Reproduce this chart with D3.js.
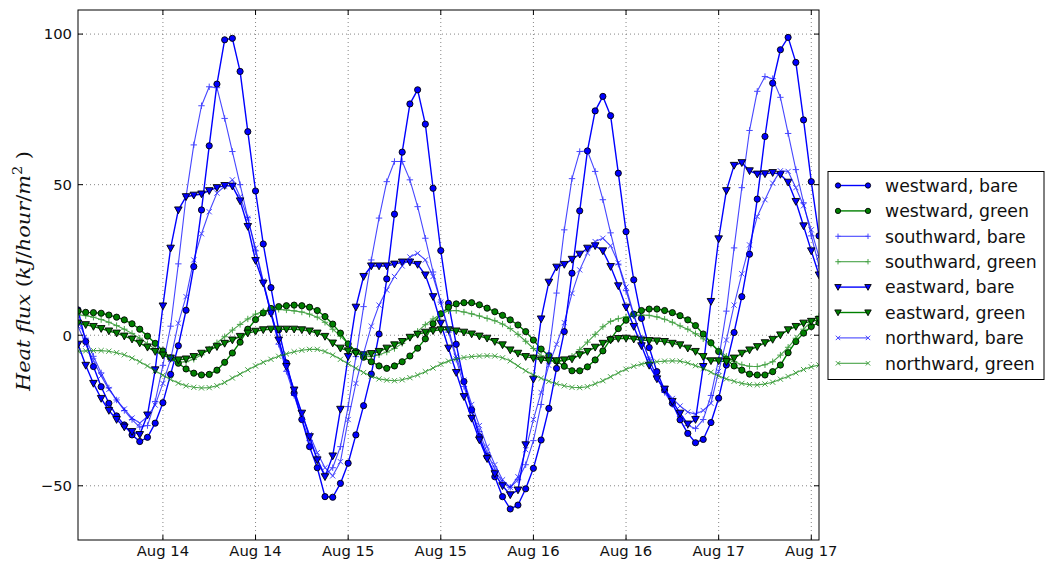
<!DOCTYPE html>
<html><head><meta charset="utf-8">
<script src="https://cdn.jsdelivr.net/npm/d3@7/dist/d3.min.js"></script>
<style>body{margin:0;background:#fff}svg{display:block}</style>
</head><body>
<svg id="chart" width="1045" height="561"></svg>
<script>
// ---- data (hourly samples starting Aug 13 13:00) ----
const startTime = "2014-08-13T13:00:00Z";
const seriesNames = ["westward, bare","westward, green","southward, bare","southward, green",
                     "eastward, bare","eastward, green","northward, bare","northward, green"];
const westwardBare = [8.4,-2.1,-10.4,-17.1,-22.6,-26.8,-29.8,-33.1,-35.3,-33.9,
 -29.2,-22.4,-13,-3.5,8.3,22.8,41.6,62.9,83.4,98.1,
 98.6,87.6,67.6,47.9,30.3,15.8,1.8,-9.2,-19.2,-28,
 -37,-44,-53.6,-53.8,-49.2,-42.5,-33.1,-23.4,-12.9,0.4,
 18.7,40.2,60.8,76.8,81.5,70.1,48.8,28.1,10.6,-3,
 -15.4,-24.8,-33.7,-40.3,-47,-53.6,-57.7,-56.4,-51,-44.2,
 -34.8,-24.3,-11,1.2,20.6,41.3,61.2,74.5,79.3,72.9,
 53.8,34.4,18.4,5.6,-4.1,-12.1,-18.2,-22.6,-28.1,-32.6,
 -35.7,-34.6,-29,-20.9,-9.9,0.9,12.8,26.9,45.2,66,
 83.7,94.8,98.9,90.6,71.5,51,33];
const westwardGreen = [8,7.6,7.5,7.3,6.7,6,5.1,3.8,2,-0.3,
 -2.7,-5.2,-7.5,-9.3,-11.2,-12.6,-13.2,-13,-11.6,-9,
 -5.9,-2.3,2,5.2,7.4,8.9,9.5,9.8,10,9.8,
 9.3,8.2,6.2,3.7,0.7,-2.9,-5.4,-7.3,-8.8,-10.2,
 -11,-10.2,-8.8,-6.9,-4.3,-1.2,3.8,7.1,9.3,10.4,
 10.8,10.8,10.1,9,7.8,6.6,5.1,3.4,1.2,-1.6,
 -4.6,-6.8,-8.6,-10.3,-11.8,-11.8,-10.5,-8.2,-5.2,-1.3,
 2.2,5,7,8.2,8.7,8.7,8.2,7.5,6.5,5.1,
 3.2,0.4,-2.5,-5.4,-8,-10.2,-11.6,-12.9,-13.2,-13.2,
 -12.1,-9.9,-5.8,-2.1,0.7,2.9,4.2];
const southwardBare = [5,-1,-7,-12.5,-17.5,-21.5,-25,-28,-30.5,-30,
 -22,-10,3,23.7,46,63.2,76.2,82.5,82.2,72,
 61,50,39,28,17.5,7,-3,-12,-20,-28,
 -35,-41,-46.5,-44,-37,-23.7,-7.1,9.5,25,38.9,
 51,57.7,57.7,51.6,42.7,32.2,21,11,1,-8,
 -17,-25,-32,-39,-44.5,-49,-50.5,-48,-43,-35,
 -23,-6,14,35,52,61,61.2,54.4,45,34,
 23.6,14.8,6.5,-1,-8,-14,-19,-23,-27,-30,
 -31,-28,-20,-8,8,29,49,68,81,85.9,
 85.2,79,67,55,44,33,23];
const southwardGreen = [6.8,6.5,6,5.2,4.3,3.2,2,0.6,-1,-2.8,
 -4.6,-6.4,-8,-9,-8.8,-8,-6.5,-4.6,-2.5,-0.5,
 1.7,3.6,5.4,7,8,8.5,8.6,8.4,8.1,7.7,
 7,6,4.3,2,-0.3,-2.8,-5.3,-6.7,-7.1,-6.5,
 -5.6,-4.4,-2.7,-0.7,1.3,3.5,5.4,7,8.1,8.2,
 7.7,7.1,6.4,5.6,4.8,3.7,2.2,0.3,-2,-4.4,
 -6.8,-8.3,-9,-8.4,-7,-4.8,-2.3,0.3,2.8,4.6,
 5.5,6.1,6.5,6.7,6.6,6.1,5.3,4.3,3.1,2,
 0.5,-1.2,-3,-5,-7,-8.7,-9.8,-10.3,-10.4,-9.8,
 -8.8,-6.6,-4,-1,2,4.6,6.4];
const eastwardBare = [-3,-10,-16,-21,-25,-28,-30.5,-32,-33,-26.5,
 -11.5,9.7,28.9,41.6,46,46.5,46.9,48,49,49.7,
 49.5,44.6,36.1,24.8,17.3,7.3,-1.6,-10.4,-18.2,-25.9,
 -33.7,-41.4,-47,-40.1,-24.6,-7.1,9.3,19.5,23,23,
 23,23.6,24.3,24.3,23.5,20,12.8,4,-4.3,-12.4,
 -20.4,-27.6,-34.8,-41,-46,-50,-53,-51.4,-36.4,-14.6,
 5.4,17.6,22.6,23.5,25.2,26.9,28.9,29.7,28,22.8,
 16.4,9.3,2.9,-3.5,-10,-14.5,-17.9,-22,-25.9,-29.5,
 -28,-10.4,11.2,32,48,56.4,57.3,54.6,53.5,53.6,
 54,53.4,50.8,44.4,36.3,28,20];
const eastwardGreen = [4,3.5,2.9,2.2,1.4,0.7,-0.3,-1.3,-2.6,-4,
 -5.4,-6.6,-7.6,-8.2,-7.9,-7.1,-6,-4.9,-3.8,-2.7,
 -1.6,-0.4,0.7,1.3,1.8,2,2,2,2,1.8,
 1.4,0.7,-0.4,-2.6,-4.3,-5.2,-6,-6.5,-6.1,-5.4,
 -4.3,-3.2,-2.1,-0.7,0.3,1,1.5,1.8,1.8,1.4,
 1,0.4,-0.3,-1,-2.1,-3.2,-4.9,-6,-7.1,-7.6,
 -8.2,-8.5,-8.5,-8.2,-7.9,-6.5,-5.4,-4,-2.7,-1.6,
 -1.1,-1,-1.3,-1.6,-1.8,-1.9,-2.1,-2.7,-3.2,-4.3,
 -5.4,-7.1,-8.5,-8.5,-8.8,-7.6,-6,-4.9,-3.8,-2.5,
 -1.4,0.1,1.8,2.9,4,4.6,5.2];
const northwardBare = [3,-3,-8.5,-13.5,-18,-21.5,-24.5,-27.5,-29.2,-27,
 -23.2,-16,-8,4,12.8,25,33.7,41,47.2,49.5,
 51.6,46,38.8,28.9,18,8,-2,-11,-19,-26,
 -33,-39,-44,-46.7,-42,-28,-16,-6,3,10,
 15,19.5,23,26,27.2,25,19.5,11,2,-7,
 -15,-23,-30,-37,-43,-48,-50.5,-47,-38,-28,
 -19,-10,-3,4.2,13.9,21.7,27.3,31.1,32.2,29.7,
 24,16,7,-1,-8,-14,-18,-21,-23.5,-25.5,
 -26.2,-25,-22.6,-12,-1.6,10,20.4,30,39.4,45,
 50.5,54.6,54.4,49,43,35,26];
const northwardGreen = [-5.3,-5.2,-5.1,-5.1,-5.3,-5.8,-6.5,-7.6,-8.8,-10.2,
 -11.8,-13.3,-14.7,-15.9,-16.8,-17.3,-17.5,-17.4,-16.8,-15.7,
 -14.2,-12.9,-11.5,-10.2,-9,-8,-7,-6.2,-5.5,-5,
 -4.7,-4.7,-5.4,-6.6,-8,-9.5,-11,-12.4,-13.6,-14.5,
 -14.9,-15.1,-14.8,-14.1,-13.2,-12.1,-10.9,-9.6,-8.6,-7.9,
 -7.4,-7.1,-6.9,-6.8,-6.9,-7.5,-8.5,-10.2,-11.8,-13.2,
 -14.3,-15.3,-16.1,-16.8,-17.3,-17.4,-17.1,-16.1,-15.1,-13.8,
 -12.5,-11.3,-10.3,-9.6,-9.1,-8.8,-8.6,-8.5,-8.6,-9.2,
 -10.1,-11,-12.3,-13.5,-14.5,-15.3,-16,-16.4,-16.5,-16.2,
 -15.6,-14.6,-13.7,-12.5,-11.4,-10.5,-9.9];
const xTickTimes = ["2014-08-14T00:00:00Z","2014-08-14T12:00:00Z","2014-08-15T00:00:00Z","2014-08-15T12:00:00Z",
                    "2014-08-16T00:00:00Z","2014-08-16T12:00:00Z","2014-08-17T00:00:00Z","2014-08-17T12:00:00Z"];
const xTickLabels = ["Aug 14","Aug 14","Aug 15","Aug 15","Aug 16","Aug 16","Aug 17","Aug 17"];
const yTickValues = [-50, 0, 50, 100];
const yTickLabels = ["\u221250", "0", "50", "100"];

// ---- styles per series ----
const allValues = [westwardBare, westwardGreen, southwardBare, southwardGreen,
                   eastwardBare, eastwardGreen, northwardBare, northwardGreen];
const styles = [
  {color:"#0000ff", marker:"o", width:1.4, opacity:1},
  {color:"#008000", marker:"o", width:1.4, opacity:1},
  {color:"#0000ff", marker:"+", width:1.1, opacity:0.72},
  {color:"#008000", marker:"+", width:1.1, opacity:0.72},
  {color:"#0000ff", marker:"v", width:1.4, opacity:1},
  {color:"#008000", marker:"v", width:1.4, opacity:1},
  {color:"#0000ff", marker:"x", width:1.1, opacity:0.72},
  {color:"#008000", marker:"x", width:1.1, opacity:0.72}
];

const svg = d3.select("#chart");
const L = 78, R = 819, T = 10, B = 540;
const t0 = new Date(startTime);
const timeAt = i => new Date(t0.getTime() + i * 3600e3);
const x = d3.scaleUtc().domain([t0, timeAt(96)]).range([L, R]);
const y = d3.scaleLinear().domain([-68, 108]).range([B, T]);

svg.append("defs").append("clipPath").attr("id","clip")
  .append("rect").attr("x",L).attr("y",T).attr("width",R-L).attr("height",B-T);

// grid
const g = svg.append("g");
const xTicks = xTickTimes.map(s => new Date(s));
g.selectAll(".gx").data(xTicks).enter().append("line")
  .attr("x1", d=>x(d)).attr("x2", d=>x(d)).attr("y1",T).attr("y2",B)
  .attr("stroke","#777").attr("stroke-width",0.9).attr("stroke-dasharray","1,3");
g.selectAll(".gy").data(yTickValues).enter().append("line")
  .attr("y1", d=>y(d)).attr("y2", d=>y(d)).attr("x1",L).attr("x2",R)
  .attr("stroke","#777").attr("stroke-width",0.9).attr("stroke-dasharray","1,3");

function drawMarker(sel, type, color, s) {
  if (type === "o") {
    sel.append("circle").attr("r", 3.1*s).attr("fill", color).attr("stroke","#000").attr("stroke-width",0.9);
  } else if (type === "v") {
    const a = 3.8*s;
    sel.append("path").attr("d", `M${-a},${-a*0.8}L${a},${-a*0.8}L0,${a}Z`)
      .attr("fill", color).attr("stroke","#000").attr("stroke-width",0.9);
  } else if (type === "+") {
    const a = 3.2*s;
    sel.append("path").attr("d", `M${-a},0H${a}M0,${-a}V${a}`).attr("stroke", color).attr("stroke-width",1).attr("fill","none");
  } else if (type === "x") {
    const a = 2.6*s;
    sel.append("path").attr("d", `M${-a},${-a}L${a},${a}M${-a},${a}L${a},${-a}`).attr("stroke", color).attr("stroke-width",1).attr("fill","none");
  }
}

const plot = svg.append("g").attr("clip-path","url(#clip)");
const line = d3.line().x((d,i)=>x(timeAt(i))).y(d=>y(d));
allValues.forEach((vals, k) => {
  const st = styles[k];
  const sg = plot.append("g").attr("opacity", st.opacity);
  sg.append("path").datum(vals).attr("d", line).attr("fill","none")
    .attr("stroke", st.color).attr("stroke-width", st.width).attr("stroke-linejoin","round");
  vals.forEach((v,i) => {
    const m = sg.append("g").attr("transform", `translate(${x(timeAt(i))},${y(v)})`);
    drawMarker(m, st.marker, st.color, 1);
  });
});

// frame
svg.append("rect").attr("x",L).attr("y",T).attr("width",R-L).attr("height",B-T)
  .attr("fill","none").attr("stroke","#000").attr("stroke-width",1);

// ticks (inward, all sides)
const tk = 5;
xTicks.forEach(d => {
  svg.append("line").attr("x1",x(d)).attr("x2",x(d)).attr("y1",B).attr("y2",B-tk).attr("stroke","#000");
  svg.append("line").attr("x1",x(d)).attr("x2",x(d)).attr("y1",T).attr("y2",T+tk).attr("stroke","#000");
});
yTickValues.forEach(d => {
  svg.append("line").attr("y1",y(d)).attr("y2",y(d)).attr("x1",L).attr("x2",L+tk).attr("stroke","#000");
  svg.append("line").attr("y1",y(d)).attr("y2",y(d)).attr("x1",R).attr("x2",R-tk).attr("stroke","#000");
});
const font = "'DejaVu Sans', sans-serif";
svg.selectAll(".xl").data(xTicks).enter().append("text")
  .attr("x", d=>x(d)).attr("y", 556).attr("text-anchor","middle")
  .attr("font-family", font).attr("font-size", 14.8).attr("fill","#111")
  .text((d,i)=>xTickLabels[i]);
svg.selectAll(".yl").data(yTickValues).enter().append("text")
  .attr("x", 72).attr("y", d=>y(d)).attr("dy","0.36em").attr("text-anchor","end")
  .attr("font-family", font).attr("font-size", 14.8).attr("fill","#111")
  .text((d,i)=>yTickLabels[i]);

// y label
const yl = svg.append("text").attr("transform","translate(30,271) rotate(-90)")
  .attr("text-anchor","middle").attr("font-family","'DejaVu Serif', serif").attr("font-size",18).attr("fill","#111")
  .attr("textLength", 240).attr("lengthAdjust","spacingAndGlyphs");
yl.append("tspan").attr("font-style","italic").text("Heat flux ");
yl.append("tspan").text("(");
yl.append("tspan").attr("font-style","italic").text("kJ");
yl.append("tspan").text("/");
yl.append("tspan").attr("font-style","italic").text("hour");
yl.append("tspan").text("/");
yl.append("tspan").attr("font-style","italic").text("m");
yl.append("tspan").attr("font-size",12.5).attr("dy",-8).text("2");
yl.append("tspan").attr("dy",8).text(" )");

// legend
const lg = svg.append("g");
lg.append("rect").attr("x",828).attr("y",171.5).attr("width",216).attr("height",208)
  .attr("fill","#fff").attr("stroke","#000").attr("stroke-width",1);
seriesNames.forEach((name,k) => {
  const st = styles[k];
  const yy = 185.5 + k*25.4;
  const eg = lg.append("g").attr("opacity", st.opacity);
  eg.append("line").attr("x1",838).attr("x2",868).attr("y1",yy).attr("y2",yy)
    .attr("stroke",st.color).attr("stroke-width",st.width);
  [838,868].forEach(px => drawMarker(eg.append("g").attr("transform",`translate(${px},${yy})`), st.marker, st.color, 0.85));
  lg.append("text").attr("x",885).attr("y",yy).attr("dy","0.36em")
    .attr("font-family",font).attr("font-size",17.3).attr("fill","#111").text(name);
});
</script>
</body></html>
